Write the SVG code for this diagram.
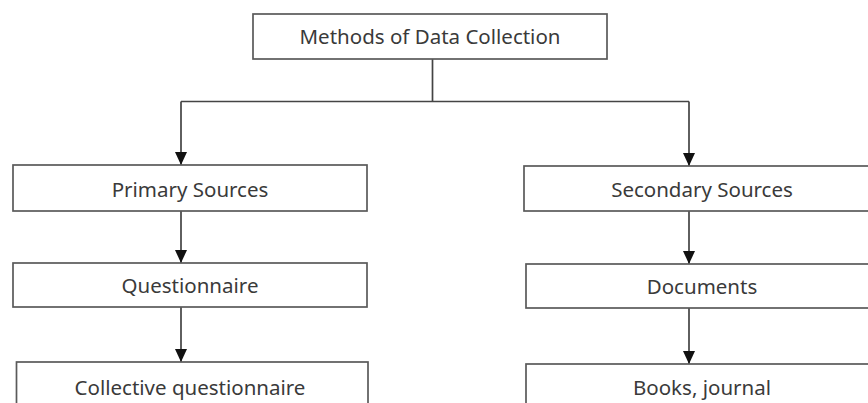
<svg xmlns="http://www.w3.org/2000/svg" width="868" height="403" viewBox="0 0 868 403">
  <defs>
    <marker id="arrow" viewBox="0 0 13 12" refX="13" refY="6" markerWidth="13" markerHeight="12" markerUnits="userSpaceOnUse" orient="auto">
      <path d="M0,0 L13,6 L0,12 Z" fill="#111"/>
    </marker>
  </defs>
  <style>
    .box { fill: #ffffff; stroke: #5a5a5a; stroke-width: 1.7; }
    .label { font-family: "Noto Sans", "Open Sans", sans-serif; font-size: 20.5px; fill: #3a3a3a; text-anchor: middle; }
    .link { fill: none; stroke: #444444; stroke-width: 1.7; }
  </style>
  <rect width="868" height="403" fill="#ffffff"/>

  <g id="connectors">
    <path class="link" d="M432.5,59 V101.5 M181,101.5 H689"/>
    <path class="link" d="M181,101.5 V165" marker-end="url(#arrow)"/>
    <path class="link" d="M689,101.5 V166" marker-end="url(#arrow)"/>
    <path class="link" d="M181,211 V263" marker-end="url(#arrow)"/>
    <path class="link" d="M181,307 V362" marker-end="url(#arrow)"/>
    <path class="link" d="M689,211 V264" marker-end="url(#arrow)"/>
    <path class="link" d="M689,308 V364" marker-end="url(#arrow)"/>
  </g>

  <g id="methods">
    <rect class="box" x="253" y="14" width="354" height="45"/>
    <text class="label" x="430" y="43.5">Methods of Data Collection</text>
  </g>

  <g id="primary">
    <rect class="box" x="13" y="165" width="354" height="46"/>
    <text class="label" x="190" y="196.5">Primary Sources</text>
  </g>
  <g id="questionnaire">
    <rect class="box" x="13" y="263" width="354" height="44"/>
    <text class="label" x="190" y="293">Questionnaire</text>
  </g>
  <g id="collective">
    <rect class="box" x="16.5" y="362" width="351.5" height="60"/>
    <text class="label" x="190" y="395">Collective questionnaire</text>
  </g>

  <g id="secondary">
    <rect class="box" x="524" y="166" width="400" height="45"/>
    <text class="label" x="702" y="196.5">Secondary Sources</text>
  </g>
  <g id="documents">
    <rect class="box" x="526" y="264" width="400" height="44"/>
    <text class="label" x="702" y="294">Documents</text>
  </g>
  <g id="books">
    <rect class="box" x="526" y="364" width="400" height="60"/>
    <text class="label" x="702" y="395">Books, journal</text>
  </g>
</svg>
